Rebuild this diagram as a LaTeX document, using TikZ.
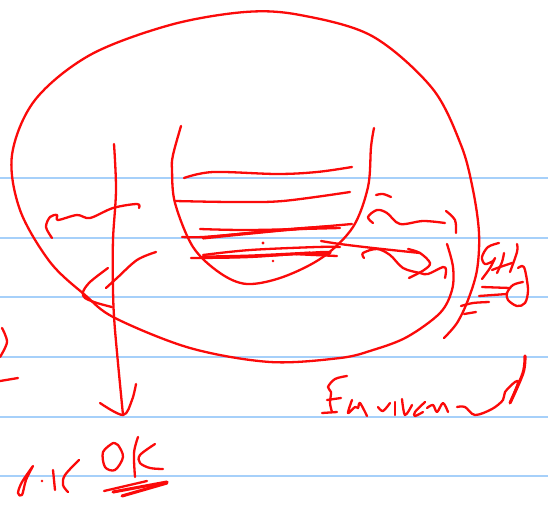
\documentclass[tikz,border=0pt]{standalone}
\definecolor{inkred}{HTML}{FB0A0A}
\definecolor{ruled}{HTML}{A6D0FA}
\tikzset{
  rule/.style={draw=ruled,line width=1.8pt},
  ink/.style={draw=inkred,line width=2.3pt,line cap=round,line join=round},
  thick ink/.style={ink,line width=3.1pt}
}
\newcommand{\stroke}[2][ink]{\draw[#1] plot[smooth,tension=0.55] coordinates {#2};}
\begin{document}
\begin{tikzpicture}[x=1pt,y=-1pt]
\useasboundingbox (0,0) rectangle (548,508);
\fill[white] (0,0) rectangle (548,508);
\foreach \yy in {178,238,297,357,417,476} \draw[rule] (0,\yy) -- (548,\yy);
% outer loop
\stroke{(444,338)(457,323)(468,300)(477,270)(479,233)(473,190)(461,145)(432,88)(372,36)(300,15)(245,12)(170,25)(90,55)(35,100)(12,155)(20,210)(50,262)(85,295)(115,318)(190,348)(270,362)(340,358)(373,350)(407,337)(440,313)(452,290)(453,267)(447,244)}
% bowl
\stroke{(181,126)(173,155)(172,170)(175,203)(193,247)(220,273)(247,284)(283,277)(323,257)(353,227)(368,187)(371,147)(374,128)}
% layers
\stroke{(184,178)(213,172)(277,174)(317,172)(352,167)}
\stroke{(175,201)(233,202)(283,201)(350,192)}
\stroke{(200,229)(250,230)(340,228)}
\stroke{(182,237)(203,237)(250,233)(352,224)}
\stroke[thick ink]{(203,238)(283,230)(325,227)}
\stroke{(203,255)(250,250)(317,247)(340,247)}
\stroke{(191,258)(250,257)(323,252)(326,254)(295,254)(337,256)}
\stroke[thick ink]{(203,257)(250,256)(310,253)}
\fill[inkred] (263,243) circle (1.7pt) (273,261) circle (1.3pt);
% arrow scribble
\stroke{(321,241)(340,244)(373,248)(420,253)}
\stroke{(408,249)(420,253)(430,263)(424,270)(409,278)}
\stroke{(364,258)(363,253)(377,249)(390,255)(403,268)(420,273)(428,274)(443,267)(446,270)(445,278)}
\stroke{(373,223)(368,217)(377,210)(387,213)(400,224)(423,221)(445,223)}
\stroke{(376,195)(383,194)(391,197)}
\stroke{(446,211)(455,220)(456,233)}
% F marks
\stroke{(461,306)(473,303)(489,302)}
\stroke{(464,314)(476,312)}
% G H
\stroke{(499,243)(488,247)(482,257)(485,264)(493,261)(495,258)(490,268)(482,279)}
\stroke{(504,253)(502,262)(497,273)}
\stroke{(517,244)(517,252)(510,272)}
\stroke{(492,270)(500,267)(512,263)}
\stroke{(518,268)(522,266)(525,270)(528,290)(525,303)(517,306)(508,300)(507,293)(513,285)(523,282)}
\stroke{(482,287)(510,288)}
\stroke{(479,296)(507,294)}
% left fragment
\stroke{(2,328)(7,342)(0,357)}
\stroke{(0,381)(18,378)}
% arrow
\stroke{(114,144)(116,190)(113,240)(113,290)(115,330)(123,415)}
\stroke{(100,403)(123,415)(132,400)(136,384)}
% left strokes
\stroke{(52,238)(46,227)(50,217)(57,215)(58,220)(77,215)(90,218)(113,208)(137,204)(139,208)}
\stroke{(156,252)(137,260)(117,278)(106,288)}
\stroke{(108,268)(90,282)(83,292)(85,298)(97,303)(112,307)}
% OK
\stroke{(113,443)(103,452)(105,467)(115,470)(123,457)(118,445)(113,443)}
\stroke{(138,437)(134,453)(135,477)}
\stroke{(155,444)(140,455)(140,463)(150,468)(163,469)}
\stroke{(104,491)(147,481)}
\stroke[thick ink]{(113,492)(167,482)}
\stroke[thick ink]{(122,496)(167,483)}
% p.1c
\stroke{(33,466)(22,482)(18,493)(22,495)(26,480)(33,466)}
\fill[inkred] (42,481) circle (1.3pt);
\stroke{(53,470)(55,490)}
\stroke{(79,460)(65,475)(63,485)(68,492)}
% Environ
\stroke{(347,376)(335,379)(328,387)(331,392)(330,403)(332,412)}
\stroke{(327,400)(341,398)}
\stroke{(322,413)(337,412)}
\stroke{(352,400)(348,413)(355,407)(358,408)(360,403)(367,416)}
\stroke{(378,407)(383,411)(390,403)}
\stroke{(395,402)(395,415)}
\stroke{(402,399)(405,415)(412,405)}
\stroke{(425,402)(415,412)(415,416)(423,412)}
\stroke{(427,408)(433,405)(437,412)(443,403)(448,412)}
\stroke{(457,407)(465,407)(475,415)(492,409)(503,400)(505,392)(515,382)(518,383)(510,403)}
\stroke[thick ink]{(525,356)(523,373)(510,403)}
\end{tikzpicture}
\end{document}
